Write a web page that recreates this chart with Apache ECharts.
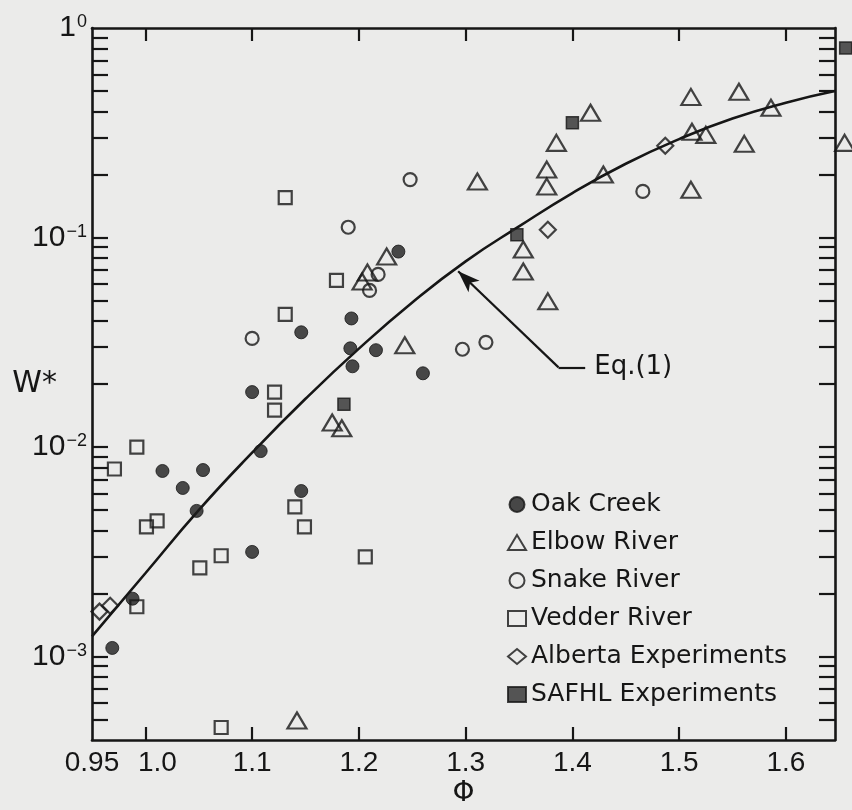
<!DOCTYPE html>
<html>
<head>
<meta charset="utf-8">
<script src="https://cdn.jsdelivr.net/npm/echarts@6/dist/echarts.min.js"></script>
<style>
  html, body { margin: 0; padding: 0; background: #ebebea; }
  #chart { width: 852px; height: 810px; }
</style>
</head>
<body>
<div id="chart"></div>
<script>
// Dimensionless bedload transport W* against normalized Shields stress Φ

const oakPhi = [0.969, 0.988, 1.016, 1.035, 1.054, 1.048, 1.108, 1.100, 1.100, 1.146, 1.146, 1.193, 1.192, 1.194, 1.216, 1.260, 1.237];
const oakW   = [0.00110, 0.00189, 0.00769, 0.00638, 0.00777, 0.00496, 0.00957, 0.0183, 0.00316, 0.00617, 0.0353, 0.0411, 0.0296, 0.0243, 0.0290, 0.0225, 0.0857];

const elbowPhi = [1.142, 1.175, 1.184, 1.243, 1.208, 1.203, 1.226, 1.311, 1.354, 1.354, 1.377, 1.376, 1.376, 1.385, 1.417, 1.429, 1.511, 1.512, 1.525, 1.511, 1.556, 1.561, 1.586, 1.655];
const elbowW   = [0.000496, 0.0131, 0.0123, 0.0306, 0.0681, 0.0617, 0.0812, 0.185, 0.0877, 0.0689, 0.0496, 0.175, 0.211, 0.283, 0.394, 0.200, 0.469, 0.320, 0.309, 0.169, 0.496, 0.280, 0.416, 0.283];

const snakePhi = [1.248, 1.190, 1.100, 1.297, 1.319, 1.466, 1.218, 1.210];
const snakeW   = [0.189, 0.112, 0.0330, 0.0293, 0.0316, 0.166, 0.0667, 0.0559];

const vedderPhi = [0.971, 0.992, 1.001, 1.011, 0.992, 1.051, 1.071, 1.071, 1.131, 1.131, 1.121, 1.121, 1.140, 1.149, 1.179, 1.206];
const vedderW   = [0.00786, 0.0100, 0.00416, 0.00444, 0.00173, 0.00265, 0.00303, 0.000459, 0.155, 0.0430, 0.0183, 0.0150, 0.00518, 0.00416, 0.0624, 0.00299];

const albertaPhi = [0.957, 0.967, 1.377, 1.487];
const albertaW   = [0.00164, 0.00175, 0.109, 0.274];

const safhlPhi = [1.186, 1.348, 1.400, 1.656];
const safhlW   = [0.0160, 0.103, 0.353, 0.803];

// Eq. (1) curve, read along its length
const eqPhi = [0.95, 1.00, 1.05, 1.10, 1.15, 1.20, 1.25, 1.30, 1.35, 1.40, 1.45, 1.50, 1.55, 1.60, 1.646];
const eqW   = [0.00125, 0.0025, 0.0050, 0.0094, 0.0170, 0.0295, 0.049, 0.077, 0.113, 0.163, 0.225, 0.295, 0.370, 0.440, 0.500];

// pointer from the "Eq.(1)" label to the curve: tip, bend, end
const pointerPhi = [1.293, 1.387, 1.412];
const pointerW   = [0.069, 0.0240, 0.0240];

const xTickValues  = [1.0, 1.1, 1.2, 1.3, 1.4, 1.5, 1.6];
const xLabelValues = [0.95, 1.0, 1.1, 1.2, 1.3, 1.4, 1.5, 1.6];
const yLabelValues = [0.001, 0.01, 0.1, 1];
const yTickValues = [];
[0.0001, 0.001, 0.01, 0.1].forEach(function (d) {
  for (let k = 1; k <= 9; k++) {
    const v = +(k * d).toPrecision(3);
    if (v > 0.00045 && v < 0.95) yTickValues.push(v);
  }
});

const ink = '#161616';
const numFont = "'Liberation Sans', sans-serif";
const textFont = "'DejaVu Sans', sans-serif";

function zip(a, b) { return a.map(function (v, i) { return [v, b[i]]; }); }

const hollow = { color: 'rgba(0,0,0,0)', borderColor: ink, borderWidth: 2.2 };

const chart = echarts.init(document.getElementById('chart'), null, { renderer: 'canvas' });

const xCommon = {
  type: 'value', min: 0.95, max: 1.646,
  axisLine: { show: true, onZero: false, lineStyle: { color: ink, width: 2.6 } },
  axisTick: { show: true, inside: true, length: 13, customValues: xTickValues, lineStyle: { color: ink, width: 2.2 } },
  splitLine: { show: false }
};
const yCommon = {
  type: 'log', logBase: 10, min: 0.0004, max: 1,
  axisLine: { show: true, onZero: false, lineStyle: { color: ink, width: 2.6 } },
  axisTick: { show: true, inside: true, length: 16, customValues: yTickValues, lineStyle: { color: ink, width: 2.2 } },
  splitLine: { show: false },
  minorTick: { show: false }
};

chart.setOption({
  backgroundColor: '#ebebea',
  animation: false,
  grid: { left: 92, top: 28, width: 743, height: 712, containLabel: false, outerBoundsMode: 'none' },
  xAxis: [
    Object.assign({}, xCommon, {
      position: 'bottom',
      name: 'Φ', nameLocation: 'middle', nameGap: 40, nameMoveOverlap: false,
      nameTextStyle: { fontFamily: textFont, fontSize: 28, color: ink },
      axisLabel: {
        show: true, customValues: xLabelValues, margin: 9,
        fontFamily: numFont, fontSize: 28, color: ink,
        formatter: function (v) {
          if (Math.abs(v - 0.95) < 1e-6) return '0.95';
          if (Math.abs(v - 1.0) < 1e-6) return '{shift|1.0}';
          return v.toFixed(1);
        },
        rich: { shift: { fontFamily: numFont, fontSize: 28, color: ink, padding: [0, 0, 0, 24] } }
      }
    }),
    Object.assign({}, xCommon, { position: 'top', axisLabel: { show: false } })
  ],
  yAxis: [
    Object.assign({}, yCommon, {
      position: 'left',
      name: 'W*', nameLocation: 'middle', nameGap: 35, nameRotate: 0, nameMoveOverlap: false,
      nameTextStyle: { fontFamily: textFont, fontSize: 30, color: ink, padding: [38, 0, 0, 0] },
      axisLabel: {
        show: true, customValues: yLabelValues, margin: 5,
        formatter: function (v) {
          const e = Math.round(Math.log10(v));
          if (e === 0) return '{b|1}{s|0}';
          return '{b|10}{s|' + String(e).replace('-', '−') + '}';
        },
        rich: {
          b: { fontFamily: numFont, fontSize: 30, color: ink, lineHeight: 30 },
          s: { fontFamily: numFont, fontSize: 18, color: ink, verticalAlign: 'top', lineHeight: 18, padding: [0, 0, 8, 1] }
        }
      }
    }),
    Object.assign({}, yCommon, { position: 'right', axisLabel: { show: false } })
  ],
  legend: {
    orient: 'vertical', left: 502, top: 487,
    itemWidth: 18, itemHeight: 15, itemGap: 13,
    textStyle: { fontFamily: textFont, fontSize: 25, color: ink },
    data: ['Oak Creek', 'Elbow River', 'Snake River', 'Vedder River', 'Alberta Experiments', 'SAFHL Experiments']
  },
  series: [
    {
      name: 'Eq.(1)', type: 'line', data: zip(eqPhi, eqW), smooth: true,
      showSymbol: false, symbol: 'none', z: 1,
      lineStyle: { color: ink, width: 2.6 }
    },
    {
      name: 'pointer', type: 'line', data: [], z: 1,
      markLine: {
        silent: true, animation: false,
        lineStyle: { color: ink, width: 2.2, type: 'solid' },
        data: [
          [
            { coord: [pointerPhi[0], pointerW[0]], symbol: 'arrow', symbolSize: [12, 22] },
            { coord: [pointerPhi[1], pointerW[1]], symbol: 'none' }
          ],
          [
            { coord: [pointerPhi[1], pointerW[1]], symbol: 'none' },
            { coord: [pointerPhi[2], pointerW[2]], symbol: 'none',
              label: { show: true, position: 'end', distance: 9, formatter: 'Eq.(1)',
                       fontFamily: textFont, fontSize: 26, color: ink } }
          ]
        ],
        label: { show: false }
      }
    },
    {
      name: 'Oak Creek', type: 'scatter', data: zip(oakPhi, oakW), clip: false,
      symbol: 'circle', symbolSize: 13, itemStyle: { color: '#1e1e1e', borderColor: ink, borderWidth: 1 }, z: 3
    },
    {
      name: 'Elbow River', type: 'scatter', data: zip(elbowPhi, elbowW), clip: false,
      symbol: 'triangle', symbolSize: [19, 16], itemStyle: hollow, z: 3
    },
    {
      name: 'Snake River', type: 'scatter', data: zip(snakePhi, snakeW), clip: false,
      symbol: 'circle', symbolSize: 13, itemStyle: hollow, z: 3
    },
    {
      name: 'Vedder River', type: 'scatter', data: zip(vedderPhi, vedderW), clip: false,
      symbol: 'rect', symbolSize: 13, itemStyle: hollow, z: 3
    },
    {
      name: 'Alberta Experiments', type: 'scatter', data: zip(albertaPhi, albertaW), clip: false,
      symbol: 'diamond', symbolSize: 16, itemStyle: hollow, z: 3
    },
    {
      name: 'SAFHL Experiments', type: 'scatter', data: zip(safhlPhi, safhlW), clip: false,
      symbol: 'rect', symbolSize: 12, itemStyle: { color: '#2e2e2e', borderColor: ink, borderWidth: 1.5 }, z: 3
    }
  ]
});
</script>
</body>
</html>
